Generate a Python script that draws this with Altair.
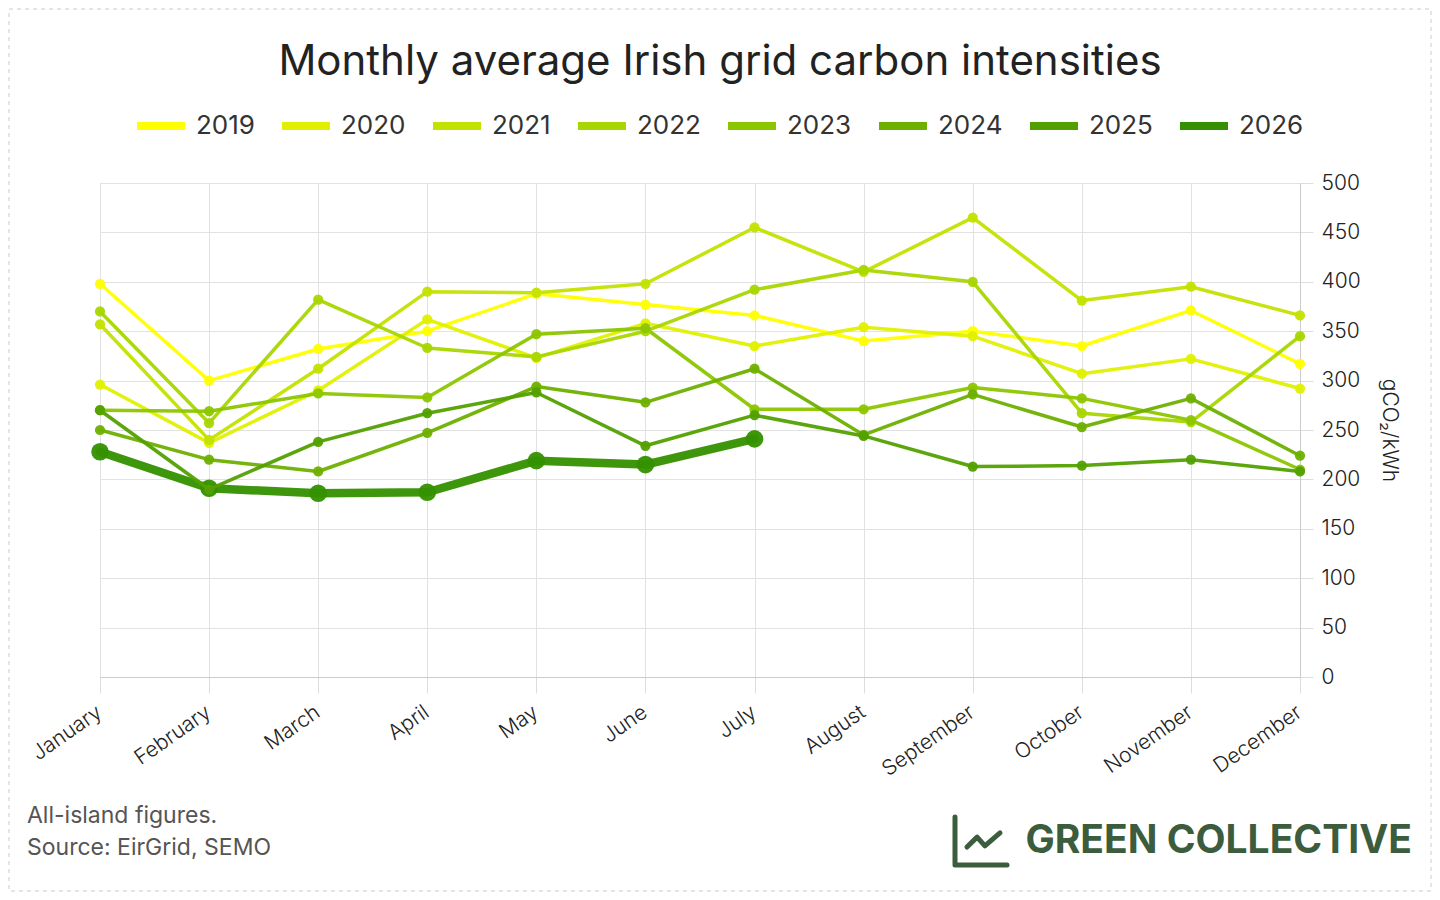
import altair as alt
import pandas as pd

MONTHS = ["January", "February", "March", "April", "May", "June", "July",
          "August", "September", "October", "November", "December"]
YEARS = ["2019", "2020", "2021", "2022", "2023", "2024", "2025", "2026"]
COLORS = ["#ffff00", "#e0f000", "#c4e200", "#a8d600", "#8cc600", "#6eb000", "#52a000", "#349000"]

# gCO2/kWh
Y2019 = [398, 300, 332, 350, 388, 377, 366, 340, 350, 335, 371, 317]
Y2020 = [296, 237, 290, 362, 323, 358, 335, 354, 345, 307, 322, 292]
Y2021 = [357, 240, 312, 390, 389, 398, 455, 410, 465, 381, 395, 366]
Y2022 = [370, 257, 382, 333, 324, 350, 392, 412, 400, 267, 258, 345]
Y2023 = [270, 269, 287, 283, 347, 353, 271, 271, 293, 282, 260, 210]
Y2024 = [250, 220, 208, 247, 294, 278, 312, 245, 286, 253, 282, 224]
Y2025 = [270, 190, 238, 267, 288, 234, 265, 244, 213, 214, 220, 208]
Y2026 = [228, 191, 186, 187, 219, 215, 241]

TITLE = "Monthly average Irish grid carbon intensities"
NOTE_1 = "All-island figures."
NOTE_2 = "Source: EirGrid, SEMO"
BRAND = "GREEN COLLECTIVE"
Y_TITLE = "gCO₂/kWh"

series = [Y2019, Y2020, Y2021, Y2022, Y2023, Y2024, Y2025, Y2026]
rows = []
for yr, vals in zip(YEARS, series):
    for m, v in zip(MONTHS, vals):
        rows.append({"year": yr, "month": m, "value": v})
df = pd.DataFrame(rows)
current = df[df["year"] == YEARS[-1]]
past = df[df["year"] != YEARS[-1]]

FONT = "Inter"

color = alt.Color(
    "year:N",
    scale=alt.Scale(domain=YEARS, range=COLORS),
    legend=alt.Legend(
        title=None, orient="none", direction="horizontal",
        legendX=33, legendY=-85,
        symbolType="stroke", symbolSize=2304, symbolStrokeWidth=8,
        labelFont=FONT, labelFontSize=26, labelColor="#333",
        labelOffset=7, columnPadding=11, symbolOpacity=1,
    ),
)

x = alt.X(
    "month:O", sort=MONTHS, title=None,
    scale=alt.Scale(type="point", domain=MONTHS, padding=0),
    axis=alt.Axis(labelAngle=-35, labelAlign="right", labelBaseline="top",
                  labelFontSize=21, labelFont=FONT, labelFontWeight=300,
                  labelColor="#222", tickSize=16, tickColor="#ddd", domainColor="#ccc",
                  gridColor="#e2e2e2", grid=True, labelPadding=8, labelOffset=-7),
)
y = alt.Y(
    "value:Q", title=Y_TITLE,
    scale=alt.Scale(domain=[0, 500], nice=False),
    axis=alt.Axis(orient="right", values=list(range(0, 501, 50)), tickSize=13,
                  tickColor="#ddd", domainColor="#ccc", gridColor="#e2e2e2",
                  labelPadding=8, labelFontSize=21, labelFont=FONT, labelFontWeight=300,
                  labelColor="#222", titleFont=FONT, titleFontSize=21,
                  titleFontWeight=300, titleColor="#222", titlePadding=18),
)

thick_line = alt.Chart(current).mark_line(
    strokeWidth=8.5, strokeJoin="round", strokeCap="round", opacity=0.95
).encode(x=x, y=y, color=color)
thick_pts = alt.Chart(current).mark_circle(size=310, opacity=0.95).encode(x=x, y=y, color=color)
lines = alt.Chart(past).mark_line(
    strokeWidth=3.5, strokeJoin="round", strokeCap="round", opacity=0.95
).encode(x=x, y=y, color=color)
points = alt.Chart(past).mark_circle(size=105, opacity=0.95).encode(x=x, y=y, color=color)


def label(text, px, py, **kw):
    return alt.Chart(pd.DataFrame({"t": [text]})).mark_text(font=FONT, **kw).encode(
        text="t:N", x=alt.value(px), y=alt.value(py)
    )


title = label(TITLE, 620, -121, fontSize=42, color="#222", align="center", baseline="middle")
note1 = label(NOTE_1, -73, 640, fontSize=23, color="#555", align="left", baseline="alphabetic")
note2 = label(NOTE_2, -73, 672, fontSize=23, color="#555", align="left", baseline="alphabetic")
brand = label(BRAND, 1312, 670, fontSize=39, fontWeight="bold", color="#3c5c3e",
              align="right", baseline="alphabetic")

ICON = "M-1,-0.92 L-1,0.92 L1,0.92 M-0.54,0.23 L-0.15,-0.15 L0.15,0.19 L0.73,-0.31"
icon = alt.Chart(pd.DataFrame({"t": [0]})).mark_point(
    shape=ICON, size=2704, filled=False, strokeWidth=5, color="#3c5c3e",
    strokeCap="round", strokeJoin="round", opacity=1,
).encode(x=alt.value(881), y=alt.value(658))

border = alt.Chart(pd.DataFrame({"t": [0]})).mark_rect(
    fill=None, stroke="#ddd", strokeDash=[4, 4], strokeWidth=1.5
).encode(x=alt.value(-91), x2=alt.value(1331), y=alt.value(-174), y2=alt.value(708))

chart = (
    alt.layer(border, thick_line, thick_pts, lines, points, title, note1, note2, brand, icon)
    .properties(
        width=1200, height=494,
        padding={"left": 92, "top": 175, "right": 132, "bottom": 215},
        autosize=alt.AutoSizeParams(type="none"),
        background="white",
    )
    .configure_view(strokeWidth=0)
)

chart.save("out.html", embed_options={"renderer": "svg", "actions": False})
